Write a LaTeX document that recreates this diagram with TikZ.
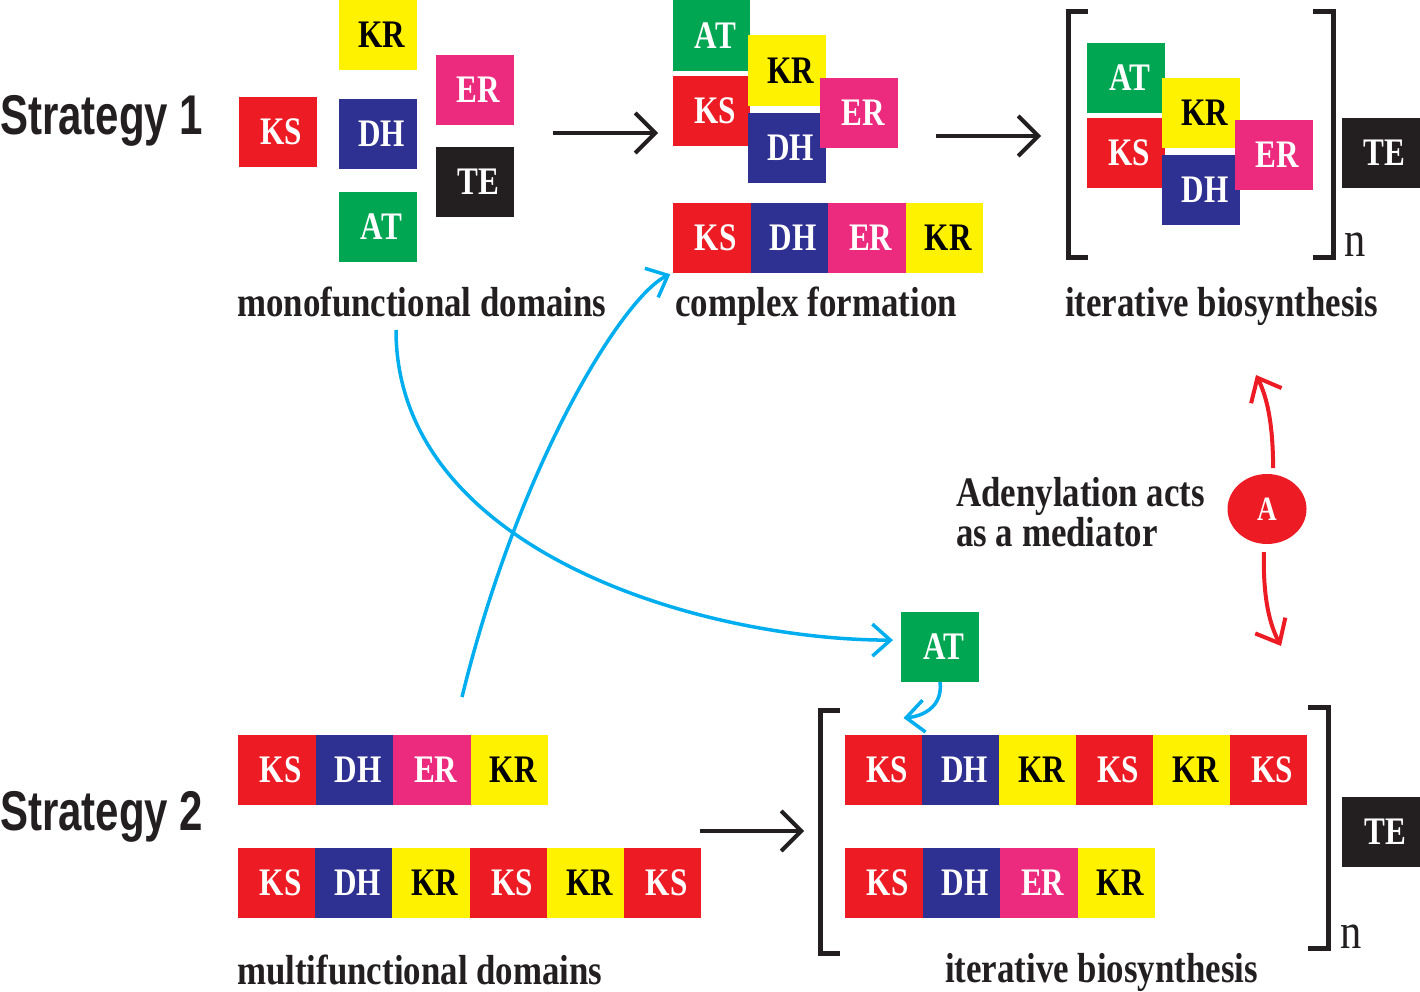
\documentclass[tikz,border=0pt]{standalone}
\usepackage{fontspec}
\setmainfont{Liberation Serif}
\newfontfamily\domfont[FakeStretch=0.8]{Liberation Serif}
\newfontfamily\labfont[FakeStretch=0.83]{Liberation Serif}
\newfontfamily\nfont[FakeStretch=0.85]{Liberation Serif}
\newfontfamily\stratfont[FakeStretch=0.75]{Liberation Sans}
\usetikzlibrary{arrows.meta,shapes.geometric}
\definecolor{ksred}{HTML}{ED1C24}
\definecolor{dhblue}{HTML}{2E3192}
\definecolor{erpink}{HTML}{EC2A7E}
\definecolor{kryellow}{HTML}{FFF200}
\definecolor{atgreen}{HTML}{00A651}
\definecolor{teblack}{HTML}{231F20}
\definecolor{arrowcyan}{HTML}{00AEEF}
\tikzset{
  dom/.style={minimum width=78pt, minimum height=70pt, inner sep=0pt, outer sep=0pt,
    font=\domfont\bfseries\fontsize{39}{40}\selectfont, text=white,
    execute at begin node={\hspace*{8pt}}},
  ksbox/.style={dom, fill=ksred},
  dhbox/.style={dom, fill=dhblue},
  erbox/.style={dom, fill=erpink},
  krbox/.style={dom, fill=kryellow, text=black},
  atbox/.style={dom, fill=atgreen},
  tebox/.style={dom, fill=teblack},
  lab/.style={font=\labfont\bfseries\fontsize{42}{44}\selectfont, text=teblack, inner sep=0pt, anchor=base west},
  strat/.style={font=\stratfont\bfseries\fontsize{56}{58}\selectfont, text=teblack, inner sep=0pt, anchor=base west},
  nlab/.style={font=\nfont\fontsize{50}{52}\selectfont, text=teblack, inner sep=0pt, anchor=base west},
  blackarrow/.style={draw=teblack, line width=4pt, -{Straight Barb[length=20pt,width=40pt]}},
  cyanarrow/.style={draw=arrowcyan, line width=3.5pt, -{Straight Barb[length=18pt,width=32pt]}},
  redarrow/.style={draw=ksred, line width=4pt, -{Straight Barb[length=20pt,width=34pt]}},
  bracket/.style={draw=teblack, line width=5pt, miter limit=10},
}
\begin{document}
\begin{tikzpicture}[x=1pt,y=-1pt]
\useasboundingbox (0,0) rectangle (1420,992);

% Strategy labels
\node[strat] (s1) at (0,135) {Strategy 1};
\node[strat] (s2) at (0,830) {Strategy 2};

% monofunctional domains
\node[krbox] (mkr) at (377.5,35) {KR};
\node[ksbox] (mks) at (277.5,132) {KS};
\node[dhbox] (mdh) at (377.5,134) {DH};
\node[erbox] (mer) at (474.5,90) {ER};
\node[tebox] (mte) at (474.5,182) {TE};
\node[atbox] (mat) at (377.5,227) {AT};
\node[lab] (monolab) at (237,316) {monofunctional domains};

% complex formation
\node[atbox, minimum width=77pt, minimum height=71pt] (cat) at (711.5,35.5) {AT};
\node[ksbox, minimum width=77pt] (cks) at (711.5,111) {KS};
\node[krbox, minimum height=71pt] (ckr) at (786.5,70.5) {KR};
\node[dhbox] (cdh) at (786.5,148) {DH};
\node[erbox] (cer) at (859,113) {ER};
\foreach \t/\s [count=\i] in {KS/ksbox,DH/dhbox,ER/erbox,KR/krbox}
  \node[\s, minimum width=77.5pt] (u\i) at ({673+38.75+(\i-1)*77.5},238) {\t};
\node[lab] (cplxlab) at (675,316) {complex formation};

% iterative biosynthesis (strategy 1)
\node[atbox] (iat) at (1125.5,78) {AT};
\node[ksbox] (iks) at (1125.5,153) {KS};
\node[krbox] (ikr) at (1201,113) {KR};
\node[dhbox] (idh) at (1201,190) {DH};
\node[erbox] (ier) at (1273.5,155) {ER};
\node[tebox] (ite) at (1380.5,153) {TE};
\draw[bracket] (1088,12) -- (1068,12) -- (1068,257) -- (1088,257);
\draw[bracket] (1313,12) -- (1333,12) -- (1333,257) -- (1313,257);
\node[nlab] (n1) at (1344,256) {n};
\node[lab] (iterlab1) at (1065,316) {iterative biosynthesis};

% black arrows strategy 1
\coordinate (a1s) at (553,133);
\coordinate (a1e) at (658,133);
\coordinate (a2s) at (936,136);
\coordinate (a2e) at (1041,136);
\draw[blackarrow] (a1s) -- (a1e);
\draw[blackarrow] (a2s) -- (a2e);

% strategy 2 multifunctional domains
\foreach \t/\s [count=\i] in {KS/ksbox,DH/dhbox,ER/erbox,KR/krbox}
  \node[\s, minimum width=77.5pt] (ra\i) at ({238+38.75+(\i-1)*77.5},770) {\t};
\foreach \t/\s [count=\i] in {KS/ksbox,DH/dhbox,KR/krbox,KS/ksbox,KR/krbox,KS/ksbox}
  \node[\s, minimum width=77.2pt] (rb\i) at ({238+38.6+(\i-1)*77.2},883) {\t};
\node[lab] (multilab) at (237,984) {multifunctional domains};

% arrow strategy 2
\coordinate (a3s) at (700,831);
\coordinate (a3e) at (804,831);
\draw[blackarrow] (a3s) -- (a3e);

% iterative biosynthesis (strategy 2)
\foreach \t/\s [count=\i] in {KS/ksbox,DH/dhbox,KR/krbox,KS/ksbox,KR/krbox,KS/ksbox}
  \node[\s, minimum width=77pt] (rc\i) at ({845+38.5+(\i-1)*77},770) {\t};
\foreach \t/\s [count=\i] in {KS/ksbox,DH/dhbox,ER/erbox,KR/krbox}
  \node[\s, minimum width=77.5pt] (rd\i) at ({845+38.75+(\i-1)*77.5},883) {\t};
\node[tebox] (ite2) at (1381,832) {TE};
\draw[bracket] (840,710) -- (820,710) -- (820,953) -- (840,953);
\draw[bracket] (1308,707) -- (1328,707) -- (1328,948) -- (1308,948);
\node[nlab] (n2) at (1340,948) {n};
\node[lab] (iterlab2) at (945,982) {iterative biosynthesis};

% AT for strategy 2
\node[atbox] (at2) at (940,647) {AT};

% blue connectors
\coordinate (c1s) at (396,330);
\coordinate (c2s) at (462,697);
\draw[cyanarrow, shorten >=8pt] (c1s) .. controls (396,550) and (700,640) .. (at2.170);
\draw[cyanarrow, shorten >=3pt] (c2s) .. controls (520,460) and (625,295) .. (u1.south west);
\draw[cyanarrow] (at2.south) .. controls (943,705) and (925,716) .. ([xshift=20pt,yshift=17pt]rc1.north);

% adenylation mediator
\node[lab, align=left, font=\labfont\bfseries\fontsize{42}{36}\selectfont] (adn) at (956,546) {Adenylation acts\\as a mediator};
\node[ellipse, fill=ksred, minimum width=79pt, minimum height=70pt, inner sep=0pt,
      font=\domfont\bfseries\fontsize{34}{36}\selectfont, text=white] (amed) at (1267,509) {A};
\coordinate (rtop) at (1256,375);
\coordinate (rbot) at (1281,646);
\draw[redarrow, shorten <=6pt] (amed.80) .. controls (1273,420) and (1266,395) .. (rtop);
\draw[redarrow, shorten <=8pt] (amed.265) .. controls (1263,600) and (1270,625) .. (rbot);
\end{tikzpicture}
\end{document}
